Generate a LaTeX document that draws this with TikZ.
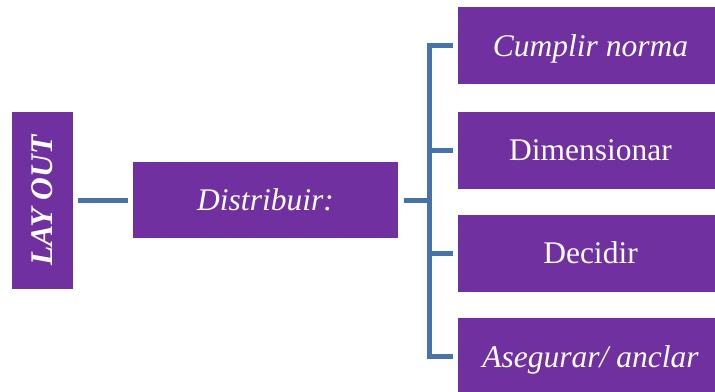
\documentclass[tikz,border=0pt]{standalone}
\usepackage{fontspec}
\setmainfont{Liberation Serif}
\definecolor{boxpurple}{HTML}{7030A0}
\definecolor{linkblue}{HTML}{4573AA}
\begin{document}
\begin{tikzpicture}[x=1pt,y=-1pt,
  box/.style={fill=boxpurple, draw=none, text=white, inner sep=0pt,
    font=\fontsize{31.5}{36}\selectfont},
  wide/.style={box, minimum width=265pt, minimum height=77pt,
    text height=21pt, text depth=0pt},
  conn/.style={draw=linkblue, line width=5pt}]
\useasboundingbox (0,0) rectangle (715,391);
\begin{scope}
\clip (0,0) rectangle (715,391);
% root and middle node
\node[box, minimum width=61pt, minimum height=177pt] (root) at (42.5,200.5)
  {\rotatebox{90}{\bfseries\itshape LAY OUT}};
\node[wide, minimum height=76pt] (dist) at (265.5,200) {\itshape Distribuir:};
% right column
\node[wide] (b1) at (590.5,45.5)  {\itshape Cumplir norma};
\node[wide] (b2) at (590.5,150)   {Dimensionar};
\node[wide] (b3) at (590.5,253)   {Decidir};
\node[wide] (b4) at (590.5,356.5) {\itshape Asegurar/ anclar};
\end{scope}
% connectors
\draw[conn, shorten <=5pt, shorten >=5pt] (root.east |- dist.west) -- (dist.west);
\coordinate (bx) at (429,200);
\draw[conn] ([xshift=6pt]dist.east) -- (bx);
\draw[conn] ([xshift=-5pt]b1.west) -| (bx) |- ([xshift=-5pt]b4.west);
\draw[conn] (bx |- b2.west) -- ([xshift=-5pt]b2.west);
\draw[conn] (bx |- b3.west) -- ([xshift=-5pt]b3.west);
\end{tikzpicture}
\end{document}
